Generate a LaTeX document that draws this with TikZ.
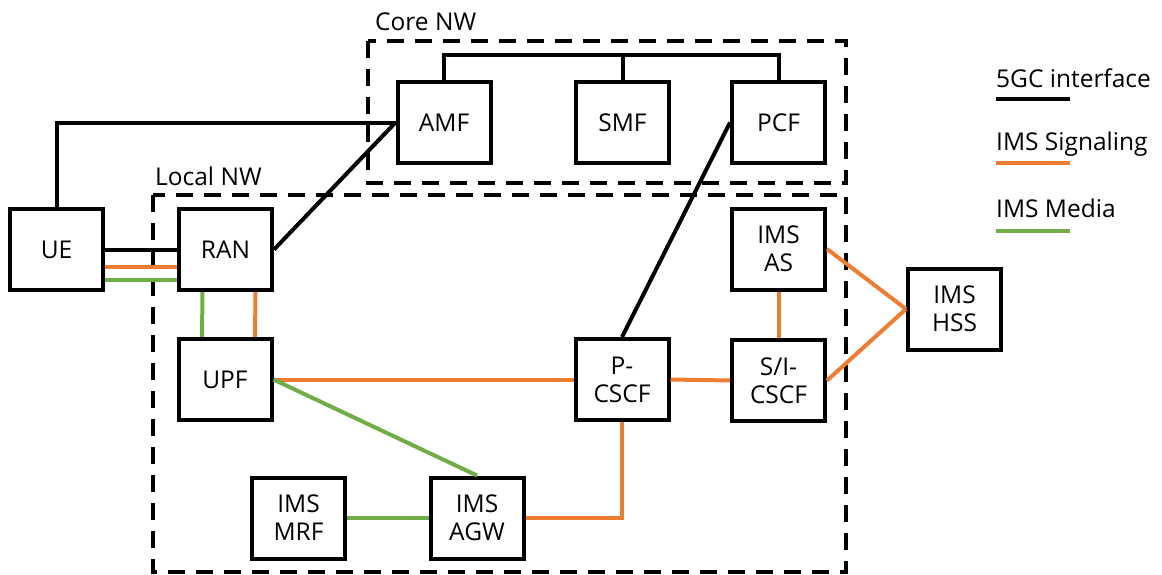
\documentclass[tikz,border=0pt]{standalone}
\usepackage{fontspec}
\setmainfont{Open Sans}
\definecolor{sigorange}{HTML}{ED7D31}
\definecolor{mediagreen}{HTML}{70AD47}
\begin{document}
\begin{tikzpicture}[x=1pt,y=-1pt,
  nf/.style={draw, line width=4pt, rectangle, minimum width=93pt, minimum height=81pt,
    inner sep=0pt, align=center, font=\fontsize{24.5}{28}\selectfont},
  zone/.style={draw, line width=4pt, dash pattern=on 17pt off 11pt},
  zonelabel/.style={anchor=base west, inner sep=0pt, font=\fontsize{24.5}{28}\selectfont},
  ifc/.style={line width=4pt, black},
  sig/.style={line width=4pt, sigorange},
  media/.style={line width=4pt, mediagreen}]
\useasboundingbox (0,0) rectangle (1162,574);

% network zones
\draw[zone] (368,41) rectangle (846,183);
\draw[zone] (153,195) rectangle (846,572);
\node[zonelabel] (corelbl) at (375,30) {Core NW};
\node[zonelabel] (locallbl) at (155,185) {Local NW};

% network functions
\node[nf] (UE)   at (56.5,249.5) {UE};
\node[nf] (RAN)  at (225.5,249.5) {RAN};
\node[nf] (UPF)  at (225,379.5) {UPF};
\node[nf] (AMF)  at (444,122.5) {AMF};
\node[nf] (SMF)  at (622.5,122.5) {SMF};
\node[nf] (PCF)  at (778.5,122.5) {PCF};
\node[nf] (AS)   at (778.5,249) {IMS\\AS};
\node[nf] (SI)   at (778.5,380.5) {S/I-\\CSCF};
\node[nf] (P)    at (622,379.5) {P-\\CSCF};
\node[nf] (HSS)  at (954.5,309) {IMS\\HSS};
\node[nf] (MRF)  at (298.5,518) {IMS\\MRF};
\node[nf] (AGW)  at (477,518) {IMS\\AGW};

% 5GC interfaces
\coordinate (bus) at (622.5,55);
\draw[ifc] (AMF.north) |- (bus) -| (PCF.north);
\draw[ifc] (SMF.north) -- (bus);
\draw[ifc] (UE.north) |- (AMF.west);
\draw[ifc] (RAN.east) -- (AMF.west);
\draw[ifc] (UE.east) -- (RAN.west);
\draw[ifc] (PCF.west) -- (P.north);

% IMS signaling
\draw[sig] ([yshift=-17pt]UE.east) -- ([yshift=-17pt]RAN.west);
\draw[sig] ([xshift=30pt]RAN.south) -- ([xshift=30pt]UPF.north);
\draw[sig] (UPF.east) -- (P.west);
\draw[sig] (P.east) -- (SI.west);
\draw[sig] (AS.south) -- (SI.north);
\draw[sig] (AS.east) -- (HSS.west);
\draw[sig] (SI.east) -- (HSS.west);
\draw[sig] (P.south) |- (AGW.east);

% IMS media
\draw[media] ([yshift=-30pt]UE.east) -- ([yshift=-30pt]RAN.west);
\draw[media] ([xshift=-23pt]RAN.south) -- ([xshift=-23pt]UPF.north);
\draw[media] (UPF.east) -- (AGW.north);
\draw[media] (MRF.east) -- (AGW.west);

% legend
\node[zonelabel] (lg1) at (996,87) {5GC interface};
\node[zonelabel] (lg2) at (996,150) {IMS Signaling};
\node[zonelabel] (lg3) at (996,217) {IMS Media};
\coordinate (l1a) at (996,99);  \coordinate (l1b) at (1070,99);
\coordinate (l2a) at (996,163); \coordinate (l2b) at (1070,163);
\coordinate (l3a) at (996,231); \coordinate (l3b) at (1070,231);
\draw[ifc] (l1a) -- (l1b);
\draw[sig] (l2a) -- (l2b);
\draw[media] (l3a) -- (l3b);
\end{tikzpicture}
\end{document}
